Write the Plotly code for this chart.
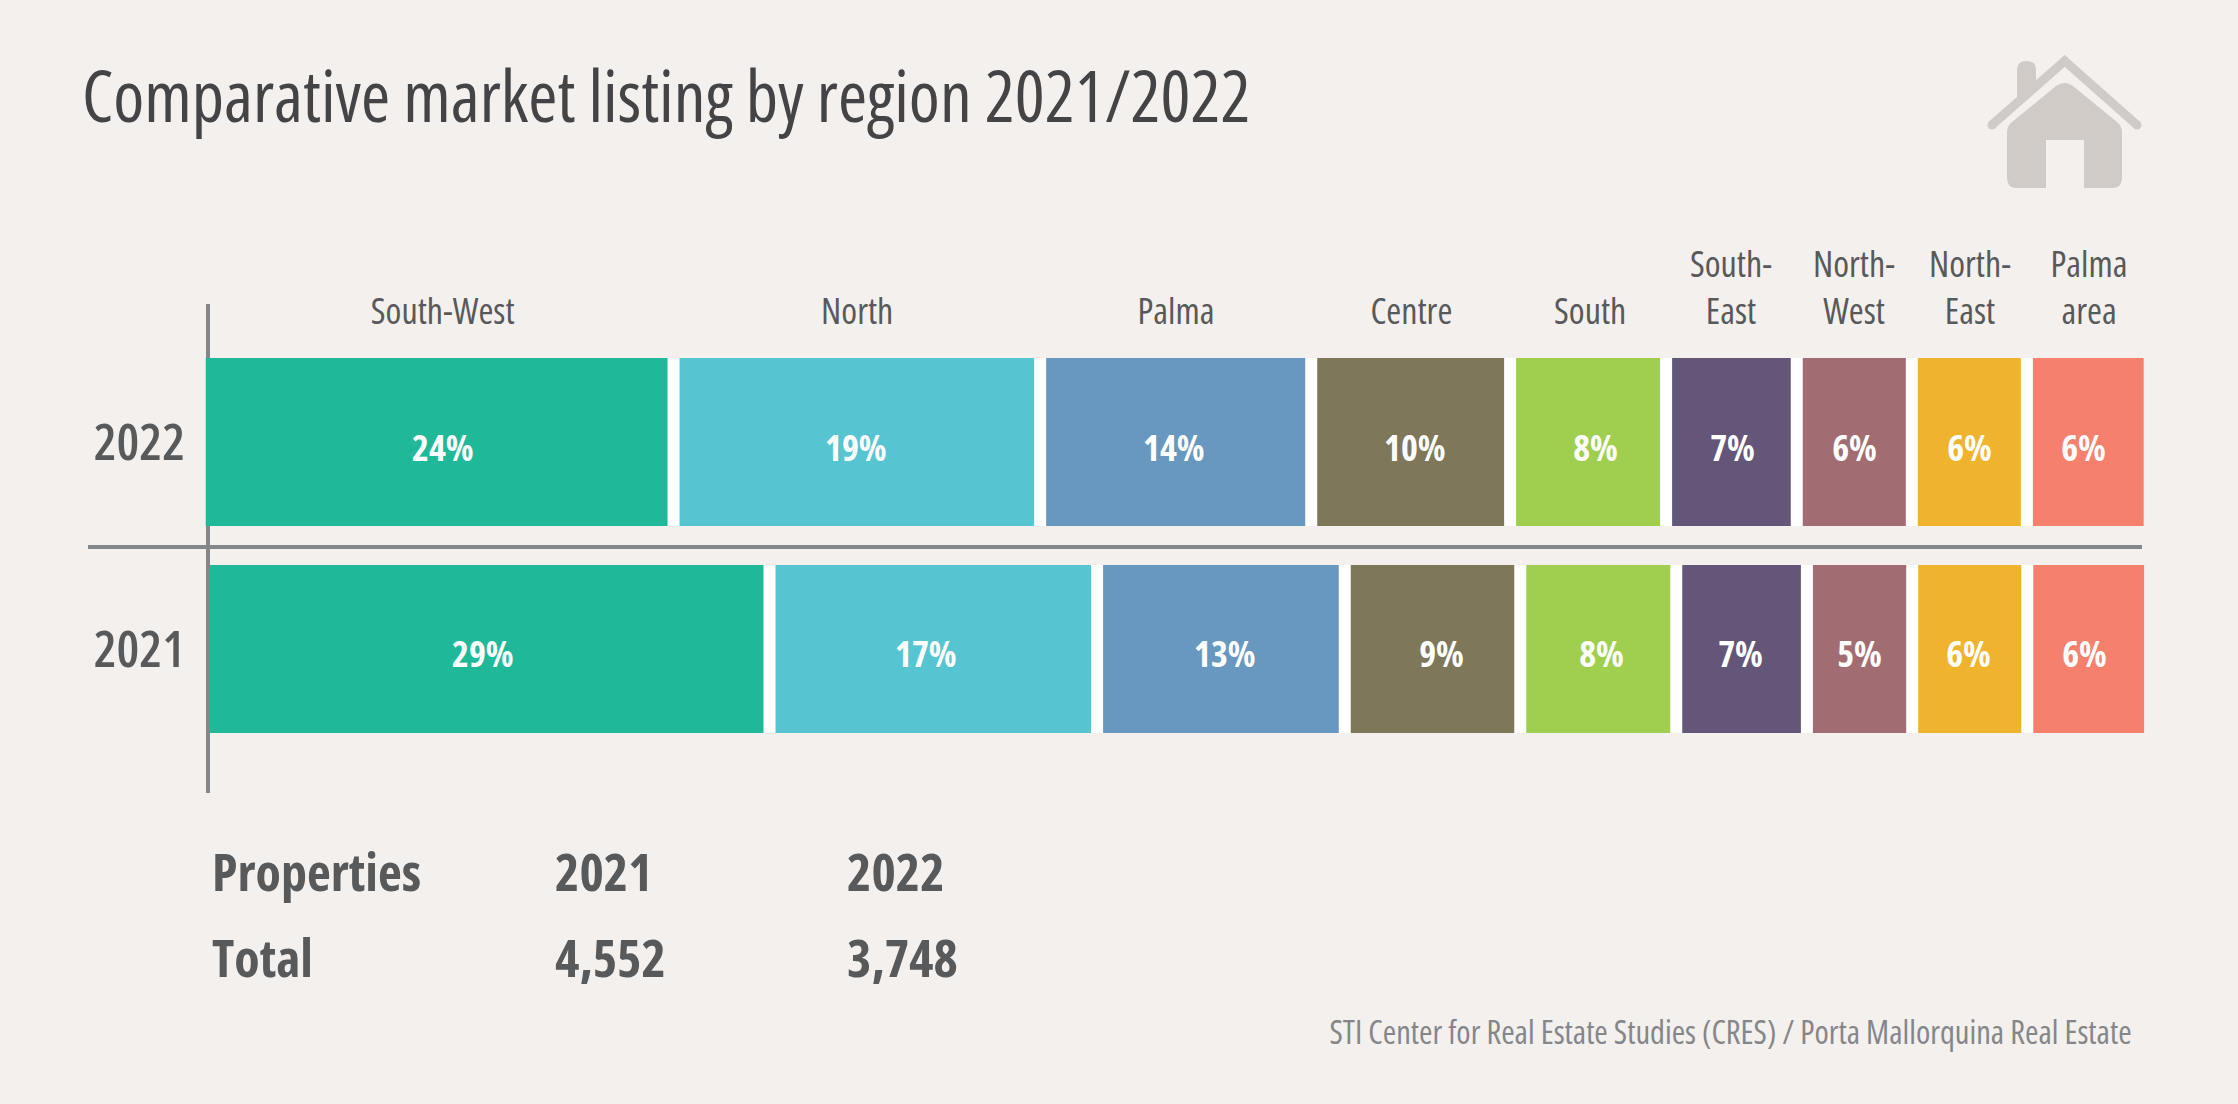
# Comparative market listing by region, stacked share bars for 2021 and 2022
import plotly.graph_objects as go

W, H = 2238, 1104

regions = ["South-West", "North", "Palma", "Centre", "South", "South-<br>East", "North-<br>West", "North-<br>East", "Palma<br>area"]
years = ["2021", "2022"]
shares_2022 = [24.3, 18.8, 13.9, 10.2, 8.0, 6.7, 5.9, 5.9, 6.3]
shares_2021 = [29.0, 16.8, 12.7, 9.0, 8.0, 6.7, 5.4, 5.9, 6.3]
colors = ["#1fb999", "#57c5d1", "#6897bf", "#7f7759", "#a0cf4f", "#635679", "#a16d72", "#f0b32e", "#f6806e"]
table_rows = [["Properties", "2021", "2022"], ["Total", "4,552", "3,748"]]

# the labels sit a little off centre in the original
nudge = {
    "2021": [-4, -7, 4, 9, 3, -1, 0, -1, -4],
    "2022": [6, -1, -2, 4, 7, 1, 0, 0, -5],
}
header_nudge = [6, 0, 0, 1, 2, 0, 0, 1, 1]

FONT = "Open Sans, sans-serif"
BG = "#f3f0ed"
TEXT = "#58595b"
AXIS = "#85868a"
HOUSE = "#d1cbc8"
GAP = 0.615


def px(x):
    return x / W


def py(y):
    return 1 - y / H


def P(x, y):
    return f"{px(x):.5f},{py(y):.5f}"


fig = go.Figure()

# white strip behind each row shows through as the separators
row_start = {"2021": 0, "2022": -0.22}
rows = {"2021": shares_2021, "2022": shares_2022}
fig.add_trace(go.Bar(
    y=years,
    x=[sum(rows[yr]) - GAP for yr in years],
    base=[row_start[yr] for yr in years],
    orientation="h", width=0.812, marker=dict(color="white", line_width=0),
    hoverinfo="skip", showlegend=False,
))

annotations = []
cum = dict(row_start)
centres_2022 = []
for i, region in enumerate(regions):
    vals = [rows[yr][i] for yr in years]
    fig.add_trace(go.Bar(
        y=years,
        x=[v - GAP for v in vals],
        base=[cum[yr] for yr in years],
        orientation="h", width=0.812, name=region.replace("<br>", ""),
        marker=dict(color=colors[i], line_width=0),
        showlegend=False,
    ))
    for row_idx, yr in enumerate(years):
        v = rows[yr][i]
        mid = cum[yr] + (v - GAP) / 2
        # numeric strings count as positions on a category axis, so use the index
        annotations.append(dict(
            x=mid, y=row_idx, xref="x", yref="y", xshift=nudge[yr][i], yshift=-5, showarrow=False,
            text=f"{round(v)}%", font=dict(family=FONT, size=36, color="white", weight="bold"),
        ))
        if yr == "2022":
            centres_2022.append(mid)
        cum[yr] += v

for region, mid, shift in zip(regions, centres_2022, header_nudge):
    annotations.append(dict(
        x=mid, xref="x", xshift=shift, y=py(337), yref="paper", yanchor="bottom", showarrow=False,
        text=region, font=dict(family=FONT, size=36, color=TEXT),
    ))

annotations.append(dict(
    x=px(80), y=py(145), xref="paper", yref="paper", xanchor="left", align="left", yanchor="bottom", showarrow=False,
    text="Comparative market listing by region 2021/2022",
    font=dict(family=FONT, size=70.5, color="#444446", weight=500),
))

for row, base_y in zip(table_rows, [908, 994]):
    for cell, x in zip(row, [210, 553, 845]):
        annotations.append(dict(
            x=px(x), y=py(base_y), xref="paper", yref="paper", xanchor="left", align="left", yanchor="bottom", showarrow=False,
            text=cell, font=dict(family=FONT, size=52, color=TEXT, weight="bold"),
        ))

annotations.append(dict(
    x=px(2134), y=py(1056), xref="paper", yref="paper", xanchor="right", align="right", yanchor="bottom", showarrow=False,
    text="STI Center for Real Estate Studies (CRES) / Porta Mallorquina Real Estate",
    font=dict(family=FONT, size=32.5, color=AXIS),
))

# divider between the rows, and the vertical axis line underneath the bars
shapes = [
    dict(type="line", xref="paper", yref="paper", x0=px(88), x1=px(2142), y0=py(547), y1=py(547),
         line=dict(color=AXIS, width=4)),
    dict(type="line", xref="paper", yref="paper", layer="below", x0=px(208), x1=px(208), y0=py(304), y1=py(793),
         line=dict(color=AXIS, width=4)),
]

# house icon: chimney, roof with round ends, body with the door cut out
shapes.append(dict(type="path", xref="paper", yref="paper", line_width=0, fillcolor=HOUSE,
                   path=f"M{P(2017, 98)} L{P(2017, 70)} Q{P(2017, 61)} {P(2026.5, 61)} Q{P(2036, 61)} {P(2036, 70)} L{P(2036, 82)} Z"))
shapes.append(dict(type="path", xref="paper", yref="paper", fillcolor="rgba(0,0,0,0)",
                   line=dict(color=HOUSE, width=9),
                   path=f"M{P(1992, 125)} L{P(2064.7, 61)} L{P(2137, 125)}"))
for cx, cy in [(1992, 125), (2064.7, 61), (2137, 125)]:
    shapes.append(dict(type="circle", xref="paper", yref="paper", line_width=0, fillcolor=HOUSE,
                       x0=px(cx - 4.5), x1=px(cx + 4.5), y0=py(cy + 4.5), y1=py(cy - 4.5)))
shapes.append(dict(type="path", xref="paper", yref="paper", line_width=0, fillcolor=HOUSE,
                   path=f"M{P(2056, 86)} Q{P(2064.7, 80)} {P(2073, 86)} L{P(2117, 122)} Q{P(2122, 126)} {P(2122, 132)} "
                        f"L{P(2122, 178)} Q{P(2122, 188)} {P(2112, 188)} L{P(2084, 188)} L{P(2084, 140)} L{P(2046, 140)} "
                        f"L{P(2046, 188)} L{P(2017, 188)} Q{P(2007, 188)} {P(2007, 178)} L{P(2007, 132)} Q{P(2007, 126)} {P(2012, 122)} Z"))

fig.update_layout(
    width=W, height=H, autosize=False,
    margin=dict(l=0, r=0, t=0, b=0),
    paper_bgcolor=BG, plot_bgcolor="rgba(0,0,0,0)",
    barmode="overlay",
    showlegend=False,
    annotations=annotations,
    shapes=shapes,
    xaxis=dict(domain=[px(200), 1], range=[-0.513, 104], visible=False, fixedrange=True),
    yaxis=dict(
        domain=[py(793), py(304)], range=[-0.696, 1.667], type="category",
        categoryorder="array", categoryarray=years,
        showline=False, showgrid=False, zeroline=False, ticks="",
        ticklabelstandoff=14,
        tickfont=dict(family=FONT, size=51, color=TEXT, weight=600),
        automargin=False,
    ),
)

# narrow width axis of the variable font, plus full-bleed page
page_css = (
    "var s=document.createElement('style');"
    "s.textContent='text{font-stretch:75%}body{margin:0;overflow:hidden}';"
    "document.head.appendChild(s);"
)
fig.write_html("out.html", config={"displayModeBar": False}, post_script=page_css)
